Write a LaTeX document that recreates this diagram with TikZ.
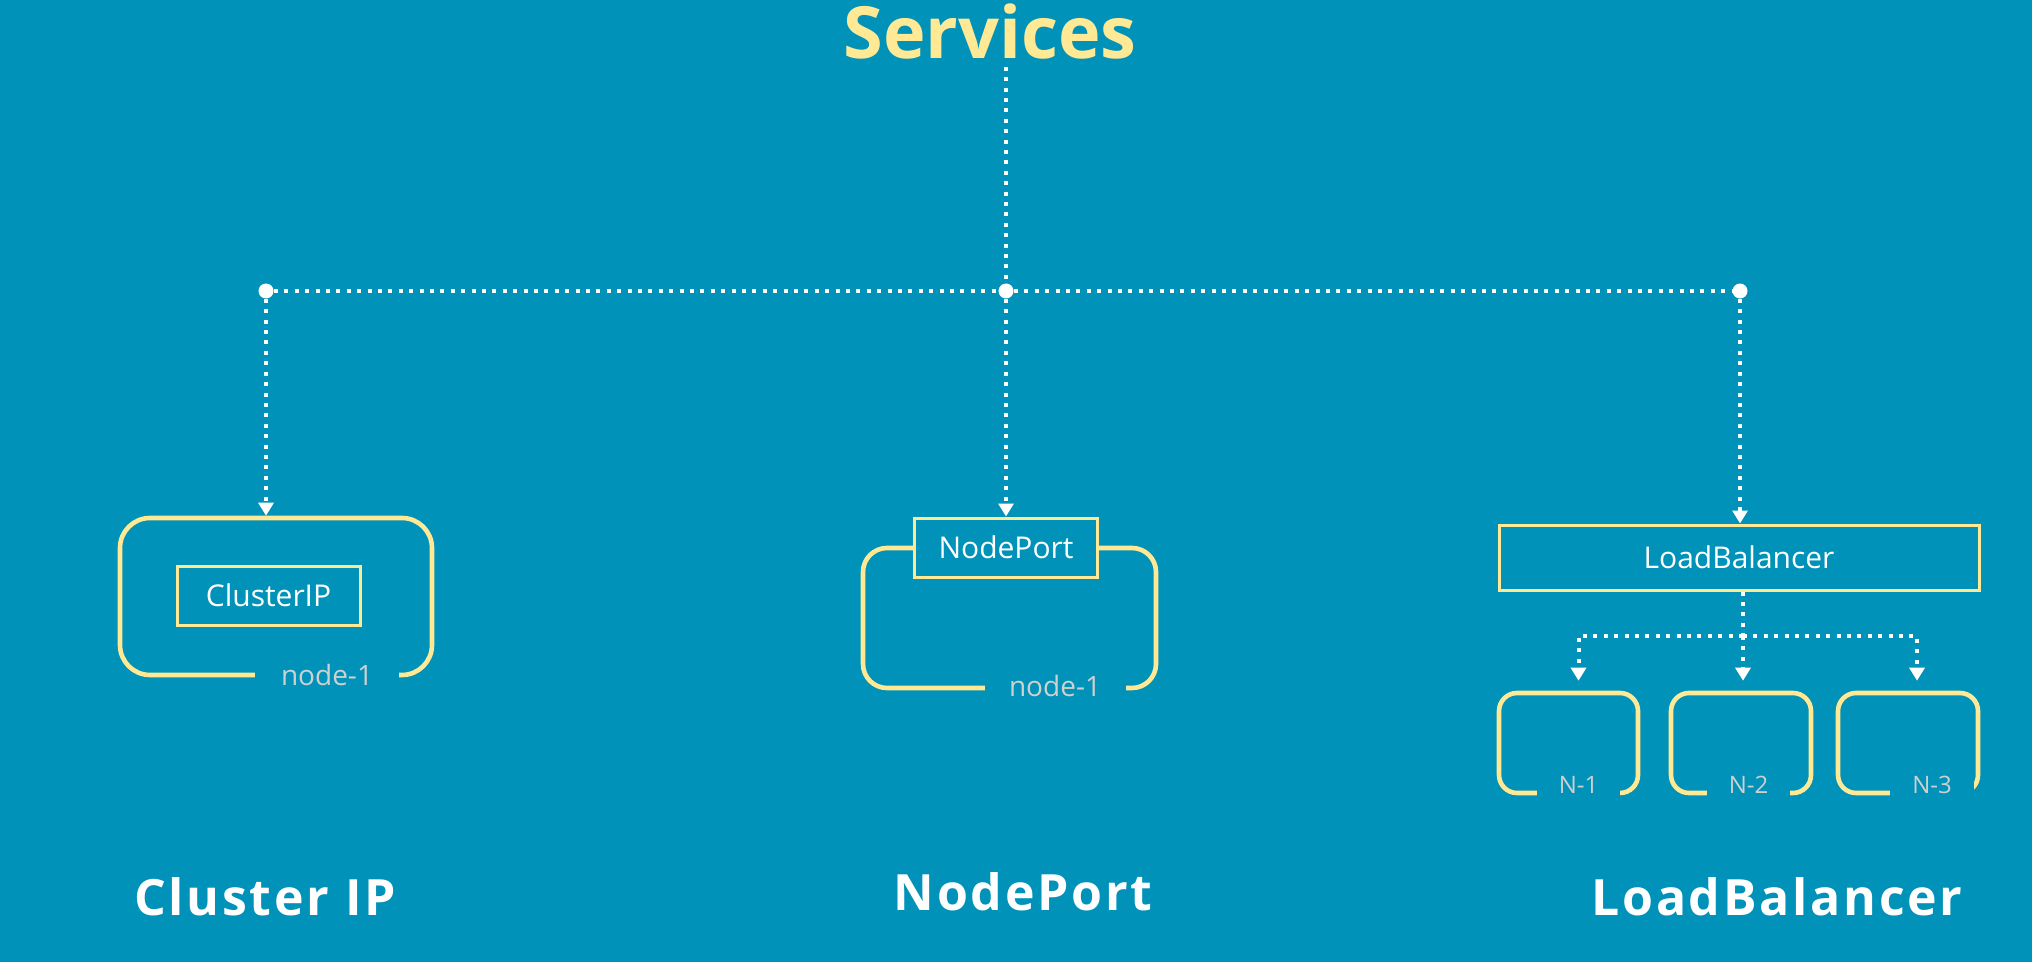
\documentclass[tikz,border=0pt]{standalone}
\usepackage{fontspec}
\setmainfont{Open Sans}
\newfontfamily\capfont[LetterSpace=5.5]{Open Sans}
\usepackage{tikz}
\usetikzlibrary{arrows.meta}
\definecolor{bgblue}{RGB}{0,146,184}
\definecolor{svcyellow}{RGB}{255,233,148}
\definecolor{hostgray}{RGB}{208,208,208}
\tikzstyle{hostbox}=[rectangle,draw=svcyellow,line width=2.3pt,inner sep=0pt]
\tikzstyle{svcbox}=[rectangle,draw=svcyellow,fill=bgblue,line width=1.5pt,inner sep=0pt,
                    text=white,font=\fontsize{15}{18}\selectfont]
\tikzstyle{hostlabel}=[fill=bgblue,text=hostgray,inner xsep=0pt,inner ysep=2pt]
\tikzstyle{link}=[draw=white,line width=2pt,dash pattern=on 2pt off 3.2pt]
\tikzstyle{arrow}=[link,-{Triangle[width=7.5pt,length=6.5pt]}]
\tikzstyle{junction}=[circle,fill=white,inner sep=0pt,minimum size=7.5pt]
\tikzstyle{caption}=[text=white,font=\capfont\bfseries\fontsize{25}{30}\selectfont]

\begin{document}
\begin{tikzpicture}[x=0.5pt,y=-0.5pt]
      \fill[bgblue] (0,0) rectangle (2032,962);
      \useasboundingbox (0,0) rectangle (2032,962);

      \node[text=svcyellow,font=\bfseries\fontsize{36}{40}\selectfont] (title) at (990,32) {Services};
      \node[junction] (jl) at (266,291) {};
      \node[junction] (jc) at (1006,291) {};
      \node[junction] (jr) at (1740,291) {};

      % cluster ip
      \node[hostbox,rounded corners=15pt,minimum width=156pt,minimum height=78.5pt] (chost) at (276,596.5) {};
      \node[svcbox,minimum width=91.5pt,minimum height=29.5pt] (cip) at (268.5,595.5) {ClusterIP};
      \node[hostlabel,minimum width=72pt,font=\fontsize{14}{16}\selectfont] (clabel) at (327,675) {node-1};

      % node port
      \node[hostbox,rounded corners=12pt,minimum width=146.5pt,minimum height=70pt] (nhost) at (1009.5,618) {};
      \node[svcbox,minimum width=91.5pt,minimum height=29.5pt] (np) at (1006,547.5) {NodePort};
      \node[hostlabel,minimum width=70.5pt,font=\fontsize{14}{16}\selectfont] (nlabel) at (1055,686) {node-1};

      % load balancer
      \node[svcbox,minimum width=240pt,minimum height=32.5pt] (lb) at (1739,557.5) {LoadBalancer};
      \node[hostbox,rounded corners=9pt,minimum width=69.5pt,minimum height=50pt] (n1) at (1568.5,743) {};
      \node[hostbox,rounded corners=9pt,minimum width=70pt,minimum height=50pt] (n2) at (1741,743) {};
      \node[hostbox,rounded corners=9pt,minimum width=70pt,minimum height=50pt] (n3) at (1908,743) {};
      \node[hostlabel,anchor=base,minimum width=41.5pt,font=\fontsize{12}{14}\selectfont] (l1) at (1578.5,793) {N-1};
      \node[hostlabel,anchor=base,minimum width=41.5pt,font=\fontsize{12}{14}\selectfont] (l2) at (1748.5,793) {N-2};
      \node[hostlabel,anchor=base,minimum width=42pt,font=\fontsize{12}{14}\selectfont] (l3) at (1932,793) {N-3};

      \node[caption] (ccap) at (265,897) {Cluster IP};
      \node[caption] (ncap) at (1023,892) {NodePort};
      \node[caption] (lcap) at (1777,897) {LoadBalancer};

      \draw[link] (jc |- title.south) -- (jc);
      \draw[link] (jl) -- (jc) -- (jr);
      \draw[arrow] (jl) -- (jl |- chost.north);
      \draw[arrow] (jc) -- (jc |- np.north);
      \draw[arrow] (jr) -- (jr |- lb.north);

      \coordinate (lbj) at (1743,636);
      \draw[link] (lbj |- lb.south) -- (lbj);
      \draw[arrow,shorten >=5pt] (lbj) -| ([xshift=5pt]n1.north);
      \draw[arrow,shorten >=5pt] (lbj) -- (lbj |- n2.north);
      \draw[arrow,shorten >=5pt] (lbj) -| ([xshift=4.5pt]n3.north);
    \end{tikzpicture}
\end{document}
